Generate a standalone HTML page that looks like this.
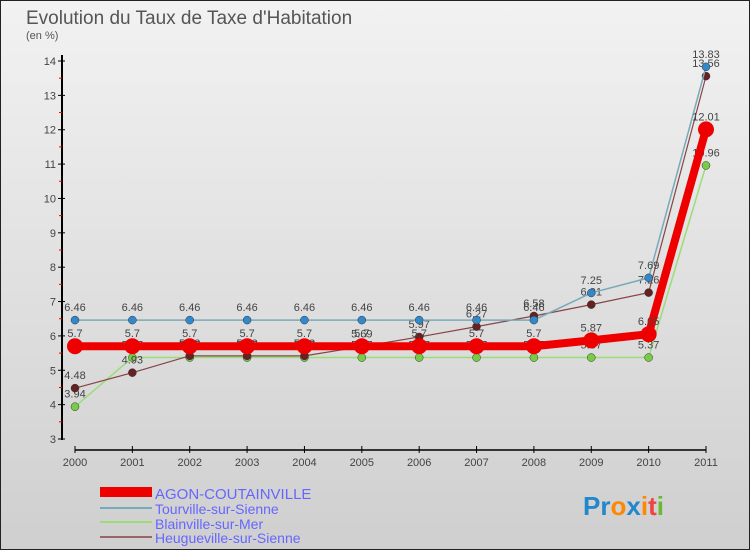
<!DOCTYPE html>
<html><head><meta charset="utf-8"><style>
body{margin:0}
#c{width:750px;height:550px;position:relative;overflow:hidden;font-family:"Liberation Sans",sans-serif}
</style></head><body>
<div id="c">
<svg id="s" width="750" height="550" xmlns="http://www.w3.org/2000/svg">
<defs><linearGradient id="bg" x1="0" y1="0" x2="0" y2="1"><stop offset="0" stop-color="#f2f2f2"/><stop offset="1" stop-color="#cfcfcf"/></linearGradient></defs>
<rect x="0.5" y="0.5" width="749" height="549" fill="url(#bg)" stroke="#222"/>
<text x="26" y="24" font-size="19" fill="#555">Evolution du Taux de Taxe d'Habitation</text>
<text x="26" y="39" font-size="11" fill="#555">(en %)</text>
<g id="axes"></g><g id="series"></g>
<g>
<rect x="100" y="487" width="52" height="10" fill="#e00"/>
<text x="155" y="499" font-size="15" fill="#66f">AGON-COUTAINVILLE</text>
<line x1="100" y1="508" x2="152" y2="508" stroke="#7ab" stroke-width="2"/>
<text x="155" y="514" font-size="14" fill="#66f">Tourville-sur-Sienne</text>
<line x1="100" y1="522" x2="152" y2="522" stroke="#9d7" stroke-width="2"/>
<text x="155" y="529" font-size="14" fill="#66f">Blainville-sur-Mer</text>
<line x1="100" y1="537" x2="152" y2="537" stroke="#966" stroke-width="2"/>
<text x="155" y="543" font-size="14" fill="#66f">Heugueville-sur-Sienne</text>
</g>
<text x="583" y="515" font-size="26" font-weight="bold"><tspan fill="#28c">Pr</tspan><tspan fill="#f80">o</tspan><tspan fill="#28c">x</tspan><tspan fill="#f80">i</tspan><tspan fill="#e44">t</tspan><tspan fill="#6b3">i</tspan></text>
</svg></div>
<script>
const years=[2000,2001,2002,2003,2004,2005,2006,2007,2008,2009,2010,2011];
const agon=[5.7,5.7,5.7,5.7,5.7,5.7,5.7,5.7,5.7,5.87,6.05,12.01];
const tourville=[6.46,6.46,6.46,6.46,6.46,6.46,6.46,6.46,6.46,7.25,7.69,13.83];
const blainville=[3.94,5.37,5.37,5.37,5.37,5.37,5.37,5.37,5.37,5.37,5.37,10.96];
const heugueville=[4.48,4.93,5.42,5.42,5.42,5.69,5.97,6.27,6.58,6.91,7.26,13.56];
const yTicks=[3,4,5,6,7,8,9,10,11,12,13,14];
const NS="http://www.w3.org/2000/svg";
const xS=i=>75+i*(706-75)/(years.length-1);
const yS=v=>439-(v-3)*(439-61)/11;
function mk(p,t,a){const e=document.createElementNS(NS,t);for(const k in a)e.setAttribute(k,a[k]);p.appendChild(e);return e;}
const ax=document.getElementById('axes');
let l=mk(ax,'line',{x1:62,y1:55,x2:62,y2:440,stroke:'#000','stroke-width':2});


l=mk(ax,'line',{x1:75,y1:450,x2:706,y2:450,stroke:'#000','stroke-width':1.5});


yTicks.forEach(v=>{const y=yS(v);
mk(ax,'line',{x1:58,y1:y,x2:65,y2:y,stroke:'#000'});
if(v<14)mk(ax,'line',{x1:59,y1:yS(v+0.5),x2:62,y2:yS(v+0.5),stroke:'#e00'});
const t=mk(ax,'text',{x:56,y:y+4,'font-size':11,fill:'#444','text-anchor':'end'});t.textContent=v;

});
years.forEach((yr,i)=>{const x=xS(i);mk(ax,'line',{x1:x,y1:446,x2:x,y2:453,stroke:'#000'});
const t=mk(ax,'text',{x:x,y:466,'font-size':11,fill:'#444','text-anchor':'middle'});t.textContent=yr;

});
const sg=document.getElementById('series');
function draw(vals,color,w,r,name,dot){
const g=mk(sg,'g',{});


mk(g,'polyline',{points:vals.map((v,i)=>xS(i)+','+yS(v)).join(' '),fill:'none',stroke:color,'stroke-width':w});
vals.forEach((v,i)=>{const c=mk(g,'circle',{cx:xS(i),cy:yS(v),r:r,fill:dot,stroke:'#333','stroke-width':r>6?0:0.5});


const t=mk(g,'text',{x:xS(i),y:yS(v)-9,'font-size':11,fill:'#444','text-anchor':'middle'});t.textContent=v;});}
draw(blainville,'#9d7',1.5,4,'series-blainville','#7c4');
draw(heugueville,'#844',1.2,4,'series-heugueville','#622');
draw(tourville,'#7ab',1.5,4,'series-tourville','#38c');
draw(agon,'#e00',8,8,'series-agon','#e00');
</script>
</body></html>
